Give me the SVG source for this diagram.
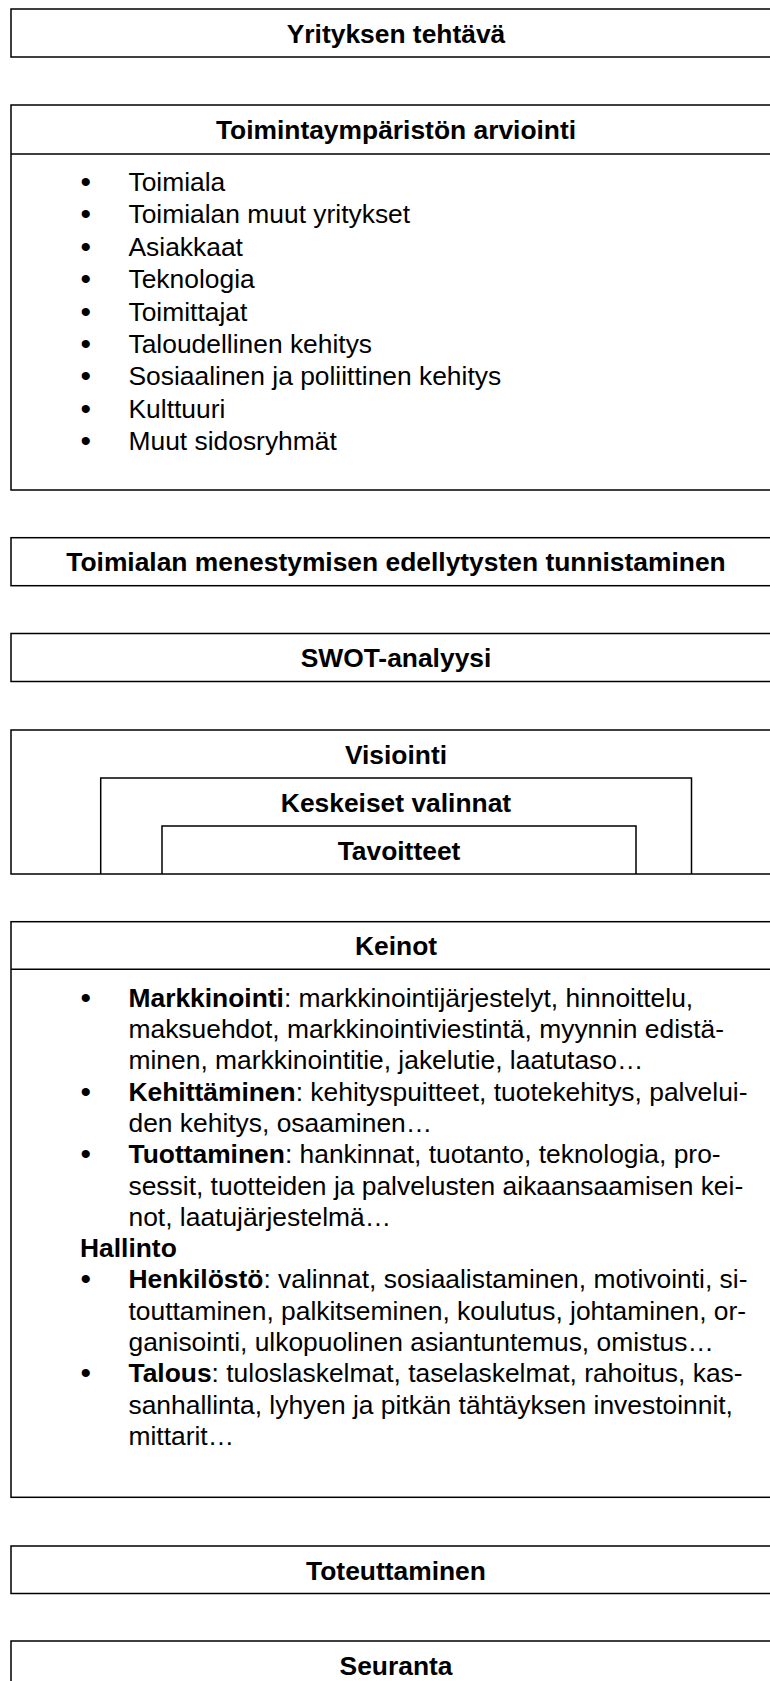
<svg xmlns="http://www.w3.org/2000/svg" width="770" height="1681" viewBox="0 0 770 1681">
<style>
.box{fill:#fff;stroke:#000;stroke-width:1.5}
.ln{fill:none;stroke:#000;stroke-width:1.5}
text{font-family:"Liberation Sans",Arial,Helvetica,sans-serif;font-size:26.4px;fill:#000}
.h{font-weight:bold;text-anchor:middle}
.b{font-weight:bold}
.bu{font-size:30px}
</style>
<rect width="770" height="1681" fill="#fff"/>
<g id="connectors"/>
<g id="yrityksen-tehtava">
<rect class="box" x="11" y="9" width="770" height="48"/>
<text class="h" x="396" y="42.5">Yrityksen tehtävä</text>
</g>
<g id="toimintaymparisto">
<rect class="box" x="11" y="105" width="770" height="385"/>
<line class="ln" x1="11" y1="154" x2="781" y2="154"/>
<text class="h" x="396" y="138.5">Toimintaympäristön arviointi</text>
<g>
<text class="bu" x="80.5" y="192">•</text><text x="128.5" y="191">Toimiala</text>
<text class="bu" x="80.5" y="224.4">•</text><text x="128.5" y="223.4">Toimialan muut yritykset</text>
<text class="bu" x="80.5" y="256.8">•</text><text x="128.5" y="255.8">Asiakkaat</text>
<text class="bu" x="80.5" y="289.2">•</text><text x="128.5" y="288.2">Teknologia</text>
<text class="bu" x="80.5" y="321.6">•</text><text x="128.5" y="320.6">Toimittajat</text>
<text class="bu" x="80.5" y="354">•</text><text x="128.5" y="353">Taloudellinen kehitys</text>
<text class="bu" x="80.5" y="386.4">•</text><text x="128.5" y="385.4">Sosiaalinen ja poliittinen kehitys</text>
<text class="bu" x="80.5" y="418.8">•</text><text x="128.5" y="417.8">Kulttuuri</text>
<text class="bu" x="80.5" y="451.2">•</text><text x="128.5" y="450.2">Muut sidosryhmät</text>
</g>
</g>
<g id="menestymisen-edellytykset">
<rect class="box" x="11" y="537.7" width="770" height="48"/>
<text class="h" x="396" y="571">Toimialan menestymisen edellytysten tunnistaminen</text>
</g>
<g id="swot">
<rect class="box" x="11" y="633.5" width="770" height="48"/>
<text class="h" x="396" y="667">SWOT-analyysi</text>
</g>
<g id="visiointi">
<rect class="box" x="11" y="730" width="770" height="144"/>
<text class="h" x="396" y="764">Visiointi</text>
</g>
<g id="keskeiset-valinnat">
<path class="ln" d="M100.7,874 V778 H691.5 V874"/>
<text class="h" x="396" y="812">Keskeiset valinnat</text>
</g>
<g id="tavoitteet">
<path class="ln" d="M162,874 V826 H636 V874"/>
<text class="h" x="399" y="860">Tavoitteet</text>
</g>
<g id="keinot">
<rect class="box" x="11" y="921.7" width="770" height="575.6"/>
<line class="ln" x1="11" y1="969.3" x2="781" y2="969.3"/>
<text class="h" x="396" y="955">Keinot</text>
<text class="bu" x="80.5" y="1007.7">•</text>
<text x="128.5" y="1006.7"><tspan class="b">Markkinointi</tspan>: markkinointijärjestelyt, hinnoittelu,</text>
<text x="128.5" y="1038">maksuehdot, markkinointiviestintä, myynnin edistä-</text>
<text x="128.5" y="1069.3">minen, markkinointitie, jakelutie, laatutaso…</text>
<text class="bu" x="80.5" y="1101.6">•</text>
<text x="128.5" y="1100.6"><tspan class="b">Kehittäminen</tspan>: kehityspuitteet, tuotekehitys, palvelui-</text>
<text x="128.5" y="1131.9">den kehitys, osaaminen…</text>
<text class="bu" x="80.5" y="1164.2">•</text>
<text x="128.5" y="1163.2"><tspan class="b">Tuottaminen</tspan>: hankinnat, tuotanto, teknologia, pro-</text>
<text x="128.5" y="1194.5">sessit, tuotteiden ja palvelusten aikaansaamisen kei-</text>
<text x="128.5" y="1225.8">not, laatujärjestelmä…</text>
<text class="b" x="80" y="1257.1">Hallinto</text>
<text class="bu" x="80.5" y="1289.4">•</text>
<text x="128.5" y="1288.4"><tspan class="b">Henkilöstö</tspan>: valinnat, sosiaalistaminen, motivointi, si-</text>
<text x="128.5" y="1319.7">touttaminen, palkitseminen, koulutus, johtaminen, or-</text>
<text x="128.5" y="1351">ganisointi, ulkopuolinen asiantuntemus, omistus…</text>
<text class="bu" x="80.5" y="1383.3">•</text>
<text x="128.5" y="1382.3"><tspan class="b">Talous</tspan>: tuloslaskelmat, taselaskelmat, rahoitus, kas-</text>
<text x="128.5" y="1413.6">sanhallinta, lyhyen ja pitkän tähtäyksen investoinnit,</text>
<text x="128.5" y="1444.9">mittarit…</text>
</g>
<g id="toteuttaminen">
<rect class="box" x="11" y="1546" width="770" height="47.5"/>
<text class="h" x="396" y="1579.5">Toteuttaminen</text>
</g>
<g id="seuranta">
<rect class="box" x="11" y="1641" width="770" height="48"/>
<text class="h" x="396" y="1675">Seuranta</text>
</g>
</svg>
